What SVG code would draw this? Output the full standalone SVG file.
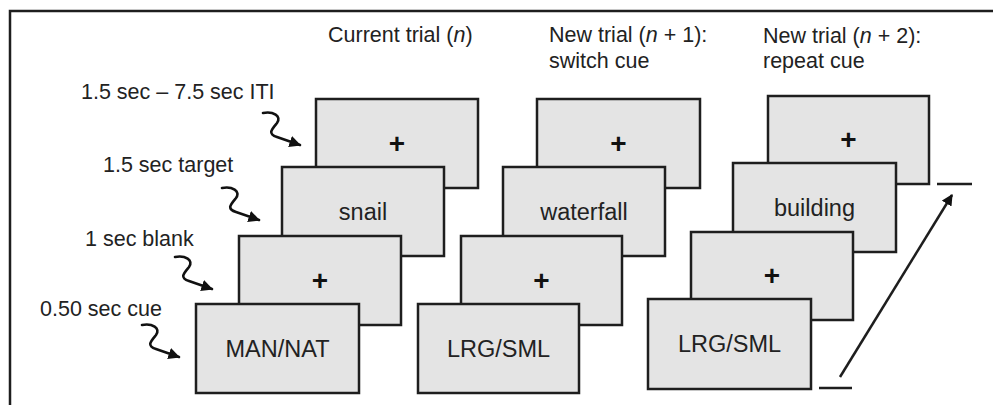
<svg xmlns="http://www.w3.org/2000/svg" width="993" height="405" viewBox="0 0 993 405">
<style>
.box{fill:#e4e4e4;stroke:#1e1e1e;stroke-width:2.5}
.bt{font-family:"Liberation Sans",Arial,sans-serif;font-size:23.5px;fill:#222;text-anchor:middle}
.pl{font-family:"Liberation Sans",Arial,sans-serif;font-size:28px;font-weight:bold;fill:#111;text-anchor:middle}
.lb{font-family:"Liberation Sans",Arial,sans-serif;font-size:21.5px;fill:#222}
.ln{fill:none;stroke:#1e1e1e;stroke-width:2.5}
.sq{fill:none;stroke:#111;stroke-width:2.6;stroke-linecap:round}
</style>
<defs>
<marker id="ah" viewBox="0 0 10 10" refX="9" refY="5" markerWidth="4.5" markerHeight="4.5" orient="auto" markerUnits="strokeWidth">
<path d="M0,0 L10,5 L0,10 z" fill="#111"/>
</marker>
<path id="squig" class="sq" d="M0,0 C10,-2 19,3 14,10 C9,16 4,21 14,24 L37,32" marker-end="url(#ah)"/>
</defs>
<path class="ln" d="M10,405 L10,11 L993,11"/>
<g id="headers">
<text class="lb" x="328" y="42">Current trial (<tspan font-style="italic">n</tspan>)</text>
<text class="lb" x="549" y="42">New trial (<tspan font-style="italic">n</tspan> + 1):</text>
<text class="lb" x="549" y="68">switch cue</text>
<text class="lb" x="763" y="43">New trial (<tspan font-style="italic">n</tspan> + 2):</text>
<text class="lb" x="763" y="68">repeat cue</text>
</g>
<g id="labels">
<text class="lb" x="81" y="99">1.5 sec – 7.5 sec ITI</text>
<text class="lb" x="103" y="172">1.5 sec target</text>
<text class="lb" x="85" y="246">1 sec blank</text>
<text class="lb" x="40" y="316">0.50 sec cue</text>
</g>
<g id="connectors">
<use href="#squig" x="263" y="113"/>
<use href="#squig" x="222" y="188"/>
<use href="#squig" x="175" y="257"/>
<use href="#squig" x="142" y="325"/>
<line class="ln" x1="840" y1="377" x2="952" y2="195" stroke-width="2" marker-end="url(#ah)"/>
<line class="ln" x1="937" y1="184" x2="972" y2="184" stroke-width="2"/>
<line class="ln" x1="819" y1="388" x2="852" y2="388" stroke-width="2"/>
</g>
<g id="trial-n">
<g id="n-iti"><rect class="box" x="316" y="99" width="162" height="89"/><text class="pl" x="397" y="153">+</text></g>
<g id="n-target"><rect class="box" x="282" y="167" width="162" height="89"/><text class="bt" x="363" y="220">snail</text></g>
<g id="n-blank"><rect class="box" x="239" y="236" width="162" height="89"/><text class="pl" x="320" y="290">+</text></g>
<g id="n-cue"><rect class="box" x="196" y="304" width="163" height="89"/><text class="bt" x="277.5" y="357">MAN/NAT</text></g>
</g>
<g id="trial-n1">
<g id="n1-iti"><rect class="box" x="537" y="99" width="163" height="89"/><text class="pl" x="618.5" y="153">+</text></g>
<g id="n1-target"><rect class="box" x="503" y="167" width="162" height="89"/><text class="bt" x="584" y="220">waterfall</text></g>
<g id="n1-blank"><rect class="box" x="461" y="236" width="161" height="89"/><text class="pl" x="541.5" y="290">+</text></g>
<g id="n1-cue"><rect class="box" x="418" y="304" width="161" height="89"/><text class="bt" x="498.5" y="357">LRG/SML</text></g>
</g>
<g id="trial-n2">
<g id="n2-iti"><rect class="box" x="768" y="96" width="161" height="88"/><text class="pl" x="848.5" y="149">+</text></g>
<g id="n2-target"><rect class="box" x="733" y="163" width="163" height="89"/><text class="bt" x="814.5" y="216">building</text></g>
<g id="n2-blank"><rect class="box" x="691" y="232" width="162" height="88"/><text class="pl" x="772" y="285">+</text></g>
<g id="n2-cue"><rect class="box" x="648" y="299" width="163" height="90"/><text class="bt" x="729.5" y="352">LRG/SML</text></g>
</g>
</svg>
